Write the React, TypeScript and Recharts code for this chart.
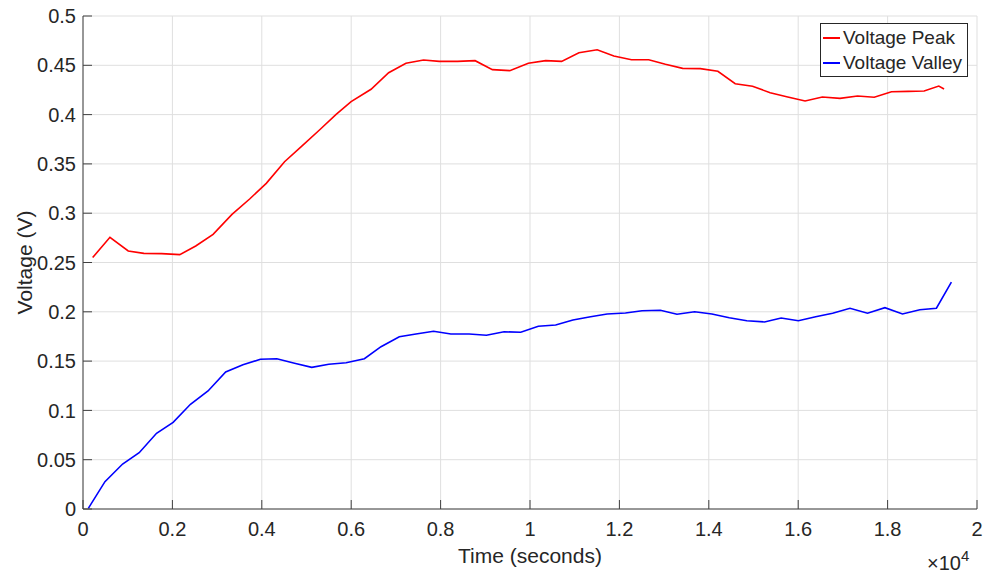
import { CartesianGrid, Label, Legend, Line, LineChart, XAxis, YAxis } from "recharts"

const peakTime = [
  216, 603, 1012, 1362, 1757, 2165, 2522, 2910, 3333, 3728, 4100, 4509, 4895,
  5290, 5663, 5998, 6444, 6838, 7225, 7618, 7969, 8378, 8772, 9159, 9547, 9963,
  10350, 10707, 11094, 11503, 11875, 12270, 12656, 13029, 13415, 13810, 14203,
  14591, 14978, 15373, 15766, 16154, 16540, 16935, 17328, 17701, 18087, 18460,
  18817, 19145, 19263,
]
const peakVoltage = [
  0.255, 0.2756, 0.2617, 0.2593, 0.259, 0.258, 0.2667, 0.2786, 0.2988, 0.3144,
  0.3303, 0.3522, 0.368, 0.3844, 0.4003, 0.4131, 0.4257, 0.4425, 0.452, 0.4554,
  0.454, 0.454, 0.4547, 0.4456, 0.4446, 0.452, 0.4547, 0.454, 0.4628, 0.4658,
  0.4594, 0.4557, 0.4557, 0.451, 0.4469, 0.4466, 0.4439, 0.4313, 0.4287, 0.4222,
  0.4178, 0.4138, 0.4178, 0.4165, 0.4189, 0.4176, 0.4232, 0.4236, 0.4239, 0.429,
  0.426,
]

const valleyTime = [
  119, 491, 886, 1257, 1645, 2016, 2404, 2797, 3192, 3578, 3967, 4337, 4732,
  5118, 5498, 5886, 6295, 6667, 7076, 7449, 7842, 8230, 8638, 9025, 9420, 9793,
  10186, 10574, 10960, 11355, 11726, 12136, 12507, 12917, 13288, 13683, 14069,
  14458, 14850, 15246, 15618, 16004, 16391, 16770, 17159, 17551, 17940, 18333,
  18721, 19092, 19427,
]
const valleyVoltage = [
  0.0007, 0.0277, 0.0456, 0.0571, 0.0768, 0.0879, 0.1062, 0.1197, 0.1389,
  0.1463, 0.1518, 0.1524, 0.1478, 0.1437, 0.1468, 0.1484, 0.1524, 0.1646,
  0.1747, 0.1775, 0.1802, 0.1775, 0.1775, 0.1762, 0.1798, 0.1792, 0.1853,
  0.1866, 0.1917, 0.195, 0.1978, 0.1988, 0.2011, 0.2015, 0.1975, 0.2001, 0.1978,
  0.194, 0.191, 0.1897, 0.1937, 0.191, 0.195, 0.1985, 0.2036, 0.1985, 0.2042,
  0.1978, 0.2021, 0.2036, 0.23,
]

const xTicks = [0, 2000, 4000, 6000, 8000, 10000, 12000, 14000, 16000, 18000, 20000]
const yTicks = [0, 0.05, 0.1, 0.15, 0.2, 0.25, 0.3, 0.35, 0.4, 0.45, 0.5]

const seriesNames = ["Voltage Peak", "Voltage Valley"]
const seriesColors = ["#ff0000", "#0000ff"]

const peakData = peakTime.map((t, i) => ({ t, v: peakVoltage[i] }))
const valleyData = valleyTime.map((t, i) => ({ t, v: valleyVoltage[i] }))

const FONT = "'Liberation Sans', Arial, Helvetica, sans-serif"
const TEXT = "#262626"
const AXIS = "#404040"

function XTick({ x, y, payload }: any) {
  const label = String(Math.round((payload.value / 10000) * 10) / 10)
  return (
    <g>
      <line x1={x} x2={x} y1={y - 13} y2={y - 22} stroke={AXIS} strokeWidth={1} />
      <text x={x} y={y} dy="0.71em" textAnchor="middle" fontSize={20} fill={TEXT} fontFamily={FONT}>
        {label}
      </text>
    </g>
  )
}

function YTick({ x, y, payload }: any) {
  const label = String(Math.round(payload.value * 100) / 100)
  return (
    <g>
      <line x1={x + 7} x2={x + 16} y1={y} y2={y} stroke={AXIS} strokeWidth={1} />
      <text x={x} y={y} dy="0.355em" textAnchor="end" fontSize={20} fill={TEXT} fontFamily={FONT}>
        {label}
      </text>
    </g>
  )
}

function LegendBox() {
  return (
    <div
      style={{
        border: `1px solid ${TEXT}`,
        background: "#fff",
        padding: "1px 0",
        fontFamily: FONT,
        fontSize: 19,
        color: TEXT,
      }}
    >
      {seriesNames.map((name, i) => (
        <div key={name} style={{ display: "flex", alignItems: "center", height: 25 }}>
          <span
            style={{ display: "inline-block", width: 17, height: 2, marginLeft: 2, marginRight: 3, background: seriesColors[i] }}
          />
          <span style={{ lineHeight: "25px", whiteSpace: "nowrap" }}>{name}</span>
        </div>
      ))}
    </div>
  )
}

export default function App() {
  return (
    <div style={{ position: "absolute", left: 0, top: 0, background: "#fff" }}>
      <LineChart width={986} height={578} margin={{ top: 16, right: 9, left: 0, bottom: 0 }}>
        <CartesianGrid stroke="#dfdfdf" strokeWidth={1} />
        <XAxis
          type="number"
          dataKey="t"
          domain={[0, 20000]}
          ticks={xTicks}
          interval={0}
          height={69}
          tickSize={0}
          tickMargin={13}
          tick={<XTick />}
          stroke={AXIS}
          allowDuplicatedCategory={false}
        >
          <Label
            content={({ viewBox }: any) => (
              <g fontFamily={FONT} fill={TEXT}>
                <text
                  x={viewBox.x + viewBox.width / 2}
                  y={viewBox.y + 46}
                  textAnchor="middle"
                  dominantBaseline="central"
                  fontSize={21}
                >
                  Time (seconds)
                </text>
                <text x={viewBox.x + viewBox.width - 50} y={viewBox.y + 61} fontSize={20}>
                  ×10
                  <tspan dy={-9} fontSize={15}>
                    4
                  </tspan>
                </text>
              </g>
            )}
          />
        </XAxis>
        <YAxis
          type="number"
          dataKey="v"
          domain={[0, 0.5]}
          ticks={yTicks}
          interval={0}
          width={83}
          tickSize={0}
          tickMargin={7}
          tick={<YTick />}
          stroke={AXIS}
        >
          <Label
            content={({ viewBox }: any) => (
              <text
                x={24}
                y={viewBox.y + viewBox.height / 2}
                transform={`rotate(-90 24 ${viewBox.y + viewBox.height / 2})`}
                textAnchor="middle"
                dominantBaseline="central"
                fontSize={21}
                fontFamily={FONT}
                fill={TEXT}
              >
                Voltage (V)
              </text>
            )}
          />
        </YAxis>
        <Legend
          layout="vertical"
          align="center"
          verticalAlign="middle"
          content={<LegendBox />}
          wrapperStyle={{ left: 820, top: 23, width: 148, height: "auto" }}
        />
        <Line
          data={peakData}
          dataKey="v"
          name={seriesNames[0]}
          stroke={seriesColors[0]}
          strokeWidth={1.6}
          dot={false}
          isAnimationActive={false}
        />
        <Line
          data={valleyData}
          dataKey="v"
          name={seriesNames[1]}
          stroke={seriesColors[1]}
          strokeWidth={1.6}
          dot={false}
          isAnimationActive={false}
        />
      </LineChart>
    </div>
  )
}
